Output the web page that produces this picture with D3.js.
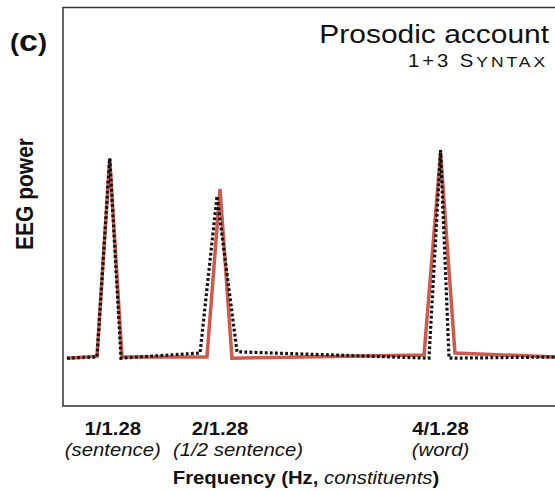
<!DOCTYPE html>
<html>
<head>
<meta charset="utf-8">
<script src="https://cdn.jsdelivr.net/npm/d3@7"></script>
<style>
  html, body { margin: 0; padding: 0; background: #fff; }
  svg { display: block; }
  text { font-family: "Liberation Sans", Arial, Helvetica, sans-serif; fill: #111; }
</style>
</head>
<body>
<script>
// Spectral peaks of the EEG power at the phrase-structure rates (frequency in Hz)
const prosodicFreq  = [0.478, 0.691, 0.781, 0.868, 1.470, 1.5625, 1.647, 3.008, 3.125, 3.227, 3.95];
const prosodicPower = [1.20, 1.25, 6.20, 1.23, 1.23, 5.45, 1.20, 1.28, 6.35, 1.33, 1.23];

const syntaxFreq  = [0.478, 0.691, 0.781, 0.861, 1.421, 1.541, 1.683, 3.043, 3.125, 3.185, 3.95];
const syntaxPower = [1.20, 1.23, 6.22, 1.20, 1.33, 5.27, 1.36, 1.20, 6.42, 1.20, 1.23];

// Tick positions and their labels
const tickFreq   = [1 / 1.28, 2 / 1.28, 4 / 1.28];
const tickLabels = ["1/1.28", "2/1.28", "4/1.28"];
const tickNotes  = ["(sentence)", "(1/2 sentence)", "(word)"];

const W = 555, H = 491;
const plot = { left: 63, top: 7.5, bottom: 406, right: 560 };
const SX = 1.13; // horizontal stretch of the lettering

const svg = d3.select("body").append("svg").attr("width", W).attr("height", H);

const x = d3.scaleLinear().domain([0.45, 3.95]).range([plot.left, 557]);
const y = d3.scaleLinear().domain([0, 10]).range([plot.bottom, plot.top]);

// Frame: left, top and bottom sides (open to the right)
svg.append("path")
  .attr("d", `M${plot.right},${plot.top}H${plot.left}V${plot.bottom}H${plot.right}`)
  .attr("fill", "none").attr("stroke", "#333").attr("stroke-width", 1.5);

const line = d3.line().x(d => x(d[0])).y(d => y(d[1]));

svg.append("path")
  .datum(d3.zip(prosodicFreq, prosodicPower))
  .attr("d", line)
  .attr("fill", "none")
  .attr("stroke", "#cd5b4d")
  .attr("stroke-width", 3.5)
  .attr("stroke-linejoin", "miter");

svg.append("path")
  .datum(d3.zip(syntaxFreq, syntaxPower))
  .attr("d", line)
  .attr("fill", "none")
  .attr("stroke", "#111")
  .attr("stroke-width", 3.2)
  .attr("stroke-dasharray", "2.8,2.3");

// Text helper: places a label at (tx, ty) with the horizontal stretch
function label(tx, ty, extra = "") {
  return svg.append("text")
    .attr("transform", `translate(${tx},${ty}) scale(${SX},1) ${extra}`);
}

// Panel letter
const pl = label(10, 51).attr("font-weight", "bold").attr("font-size", 24);
pl.append("tspan").text("(");
pl.append("tspan").attr("font-size", 30).text("c");
pl.append("tspan").text(")");

// Title block
label(549, 43).attr("text-anchor", "end").attr("font-size", 26.5).text("Prosodic account");
const sub = label(548, 67).attr("text-anchor", "end").attr("font-size", 18)
  .attr("letter-spacing", 2.6);
sub.append("tspan").text("1+3 S");
sub.append("tspan").attr("font-size", 15.5).text("YNTAX");

// Y axis title
label(33, 194, "rotate(-90)").attr("text-anchor", "middle")
  .attr("font-weight", "bold").attr("font-size", 21).text("EEG power");

// X axis tick labels
const noteShift = [3, 18, 0];
tickFreq.forEach((f, i) => {
  label(x(f) + (i === 0 ? 3 : 0), 435).attr("text-anchor", "middle")
    .attr("font-weight", "bold").attr("font-size", 18).text(tickLabels[i]);
  label(x(f) + noteShift[i], 456).attr("text-anchor", "middle")
    .attr("font-style", "italic").attr("font-size", 18).text(tickNotes[i]);
});

// X axis title
const xt = label(306, 484).attr("text-anchor", "middle").attr("font-size", 18);
xt.append("tspan").attr("font-weight", "bold").text("Frequency (Hz, ");
xt.append("tspan").attr("font-style", "italic").text("constituents");
xt.append("tspan").attr("font-weight", "bold").text(")");
</script>
</body>
</html>
